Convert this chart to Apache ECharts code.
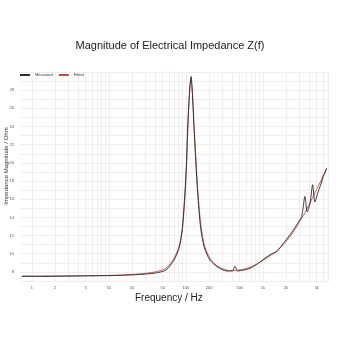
<!DOCTYPE html>
<html>
<head>
<meta charset="utf-8">
<script src="https://cdn.jsdelivr.net/npm/echarts@6/dist/echarts.min.js"></script>
<style>
  html, body { margin: 0; padding: 0; background: #ffffff; }
  #chart { width: 340px; height: 340px; }
</style>
</head>
<body>
<div id="chart"></div>
<script>
// Impedance sweep: frequency (Hz) and magnitude (Ohm)
const freqHz = [0.74, 1.3, 2.3, 4.2, 7.6, 14, 25, 40, 55, 70, 82, 90, 97, 102, 105, 109, 113, 116, 117, 120, 124, 127, 134, 142, 155, 173, 205, 260, 340, 400, 433, 470, 560, 680, 850, 1100, 1300, 1500, 1840, 2200, 2480, 2800, 3180, 3510, 3760, 4100, 4420, 4730, 5200, 5790, 6070, 6400, 6720];
const measuredOhm = [7.5, 7.5, 7.52, 7.55, 7.58, 7.62, 7.72, 7.88, 8.2, 9.3, 10.7, 12.9, 16.7, 20.3, 23.5, 26.5, 28.6, 29.4, 29.5, 28.3, 26.0, 24.0, 20.3, 16.7, 12.9, 10.7, 9.3, 8.5, 8.1, 8.1, 8.6, 8.1, 8.2, 8.4, 8.9, 9.6, 10.0, 10.2, 11.15, 12.0, 12.6, 13.3, 14.1, 16.3, 14.6, 15.6, 17.6, 15.7, 16.8, 17.9, 18.5, 18.9, 19.4];
const fittedOhm = [7.55, 7.55, 7.56, 7.58, 7.6, 7.65, 7.78, 8.0, 8.4, 9.5, 10.9, 12.7, 16.2, 19.8, 23.0, 26.2, 28.4, 29.3, 29.3, 28.4, 26.3, 24.4, 20.8, 17.2, 13.4, 11.0, 9.5, 8.6, 8.2, 8.15, 8.15, 8.2, 8.3, 8.5, 8.9, 9.5, 9.9, 10.3, 11.0, 11.8, 12.4, 13.1, 13.9, 14.5, 15.0, 15.6, 16.2, 16.7, 17.4, 18.2, 18.6, 19.0, 19.4];

// Axis labels
const xTickHz = [1, 2, 5, 10, 20, 50, 100, 200, 500, 1000, 2000, 5000];
const xTickText = ['1', '2', '5', '10', '20', '50', '100', '200', '500', '1k', '2k', '5k'];
const yTickOhm = [8, 10, 12, 14, 16, 18, 20, 22, 24, 26, 28];

// Grid lines at every 1..9 multiple of each decade
const xGridHz = [];
for (let d = 1; d <= 1000; d *= 10) {
  for (let m = 1; m <= 9; m++) xGridHz.push(m * d);
}

const gridColor = '#f1eced';
const chart = echarts.init(document.getElementById('chart'), null, { renderer: 'canvas' });

chart.setOption({
  animation: false,
  backgroundColor: '#ffffff',
  title: {
    text: 'Magnitude of Electrical Impedance Z(f)',
    left: 'center',
    top: 35,
    textStyle: { fontFamily: 'Liberation Sans', fontSize: 11, fontWeight: 'normal', color: '#222' }
  },
  legend: {
    left: 15,
    top: 68,
    itemWidth: 10,
    itemHeight: 2,
    itemGap: 6,
    icon: 'rect',
    textStyle: { fontSize: 4, color: '#333', fontFamily: 'Liberation Sans' },
    data: ['Measured', 'Fitted']
  },
  grid: { left: 20, right: 12, top: 72, bottom: 59, containLabel: false },
  xAxis: [{
    type: 'log',
    min: 0.7,
    max: 7000,
    axisLine: { show: false },
    axisTick: { show: false },
    splitLine: { show: false },
    minorTick: { show: false },
    axisLabel: {
      show: true,
      customValues: xTickHz,
      fontSize: 4,
      color: '#555',
      margin: 5,
      formatter: function (v) {
        const i = xTickHz.findIndex(t => Math.abs(t - v) / t < 1e-6);
        return i >= 0 ? xTickText[i] : '';
      }
    }
  }, {
    type: 'log',
    min: 0.7,
    max: 7000,
    position: 'bottom',
    axisLine: { show: false },
    axisLabel: { show: false },
    axisTick: { show: false, customValues: xGridHz },
    splitLine: { show: true, lineStyle: { color: gridColor, width: 1 } }
  }],
  yAxis: {
    type: 'value',
    min: 7,
    max: 30,
    interval: 1,
    axisLine: { show: false },
    axisTick: { show: false },
    splitLine: { show: true, lineStyle: { color: gridColor, width: 1 } },
    axisLabel: {
      fontSize: 4,
      color: '#555',
      margin: 6,
      formatter: function (v) { return yTickOhm.indexOf(v) >= 0 ? String(v) : ''; }
    }
  },
  graphic: [{
    type: 'text',
    left: 170 - 35,
    top: 293,
    style: { text: 'Frequency / Hz', font: '10px "Liberation Sans"', fill: '#222' }
  }, {
    type: 'text',
    x: 6,
    y: 166,
    rotation: Math.PI / 2,
    style: { text: 'Impedance Magnitude / Ohm', font: '6px "Liberation Sans"', fill: '#333', align: 'center', verticalAlign: 'middle' }
  }],
  series: [{
    name: 'Measured',
    type: 'line',
    xAxisIndex: 0,
    data: freqHz.map((f, i) => [f, measuredOhm[i]]),
    showSymbol: false,
    smooth: 0.25,
    lineStyle: { color: '#2a2a2a', width: 0.9 },
    itemStyle: { color: '#2a2a2a' },
    z: 3
  }, {
    name: 'Fitted',
    type: 'line',
    xAxisIndex: 0,
    data: freqHz.map((f, i) => [f, fittedOhm[i]]),
    showSymbol: false,
    smooth: 0.25,
    lineStyle: { color: '#c8494a', width: 0.9 },
    itemStyle: { color: '#c8494a' },
    z: 2
  }]
});
</script>
</body>
</html>
